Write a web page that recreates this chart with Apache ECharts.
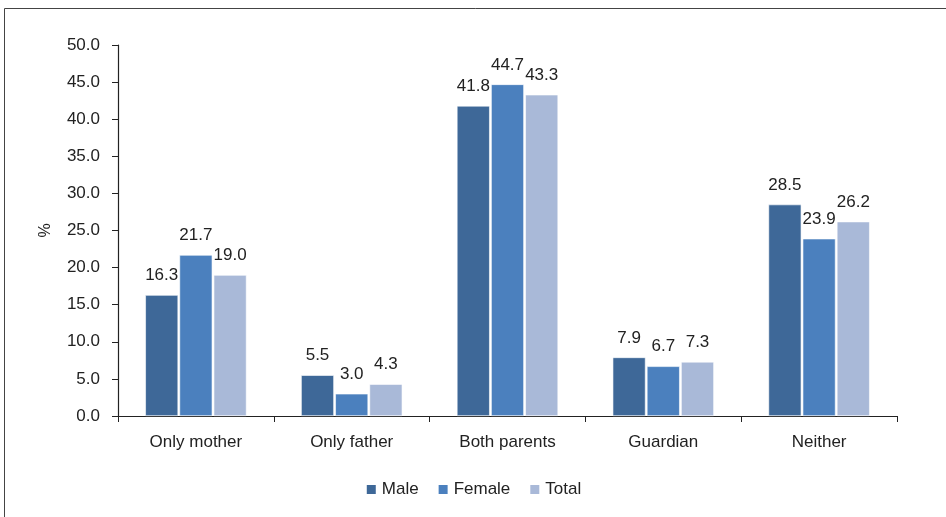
<!DOCTYPE html>
<html><head><meta charset="utf-8">
<script src="https://cdn.jsdelivr.net/npm/echarts@6/dist/echarts.min.js"></script>
<style>html,body{margin:0;padding:0;background:#fff}#c{width:946px;height:517px}</style>
</head><body><div id="c"></div>
<script>
const categories = ['Only mother', 'Only father', 'Both parents', 'Guardian', 'Neither'];
const male = [16.3, 5.5, 41.8, 7.9, 28.5];
const female = [21.7, 3.0, 44.7, 6.7, 23.9];
const total = [19.0, 4.3, 43.3, 7.3, 26.2];
const seriesNames = ['Male', 'Female', 'Total'];
const colors = ['#3e6898', '#4b80be', '#a9b9d8'];
const FONT = '"Liberation Sans Narrow", "Arial Narrow", "Liberation Sans", sans-serif';

const chart = echarts.init(document.getElementById('c'));
const mk = (name, data, color) => ({
  name, type: 'bar', data, barGap: '4%', barCategoryGap: '35%',
  itemStyle: { color, borderColor: '#ffffff', borderWidth: 0.6 },
  label: { show: true, position: 'top', distance: 11, formatter: p => p.value.toFixed(1),
    fontFamily: FONT, fontSize: 17, color: '#222' }
});
chart.setOption({
  animation: false,
  graphic: [{ type: 'rect', shape: { x: 4.5, y: 8.5, width: 1000, height: 600 },
    style: { fill: 'none', stroke: '#444', lineWidth: 1 }, silent: true }],
  grid: { left: 118, top: 45, right: 49, bottom: 101 },
  legend: { bottom: 14, left: 'center', itemWidth: 11, itemHeight: 11, itemGap: 18,
    icon: 'rect', textStyle: { fontFamily: FONT, fontSize: 17, color: '#222' },
    data: seriesNames },
  xAxis: { type: 'category', data: categories,
    axisLine: { lineStyle: { color: '#222', width: 1.2 } },
    axisTick: { show: true, length: 6, lineStyle: { color: '#222' } },
    axisLabel: { fontFamily: FONT, fontSize: 17, color: '#222', margin: 18 } },
  yAxis: { type: 'value', min: 0, max: 50, interval: 5,
    name: '%', nameLocation: 'middle', nameGap: 64, nameRotate: 90,
    nameTextStyle: { fontFamily: FONT, fontSize: 16, color: '#222' },
    axisLine: { show: true, lineStyle: { color: '#222', width: 1.2 } },
    axisTick: { show: true, length: 6, lineStyle: { color: '#222' } },
    splitLine: { show: false },
    axisLabel: { formatter: v => v.toFixed(1), fontFamily: FONT, fontSize: 17, color: '#222', margin: 18 } },
  series: [mk(seriesNames[0], male, colors[0]), mk(seriesNames[1], female, colors[1]), mk(seriesNames[2], total, colors[2])]
});
</script></body></html>
